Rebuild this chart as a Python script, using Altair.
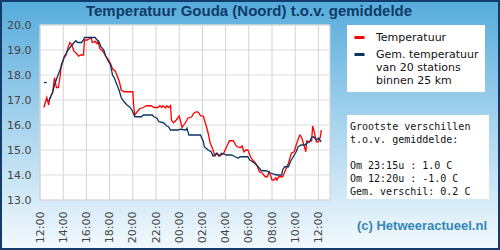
import altair as alt
import pandas as pd

# ---------------- data ----------------
SERIES = ["Temperatuur", "Gem. temperatuur van 20 stations binnen 25 km"]
COLORS = ["#ff0000", "#0b3563"]

RED_TIMES = ["12:20","12:35","12:45","12:50","13:05","13:15","13:25","13:35","13:45","13:50",
             "14:05","14:15","14:25","14:35","14:45","14:55","15:10","15:20","15:30","15:45",
             "15:50","16:05","16:15","16:25","16:30","16:45","16:55","17:00","17:10","17:25",
             "17:40","17:55","18:05","18:15","18:30","18:35","18:50","19:00","19:15","19:35",
             "20:00","20:05","20:10","20:25","20:35","20:55","21:10","21:35","21:50","22:10",
             "22:20","22:30","22:35","22:50","22:55","23:05","23:15","23:20","23:30","23:45",
             "00:00","00:15","00:30","00:45","01:05","01:15","01:30","01:40","01:50","02:05",
             "02:20","02:30","02:40","02:55","03:05","03:15","03:30","03:50","04:05","04:20",
             "04:40","04:55","05:15","05:25","05:35","05:45","05:55","06:10","06:20","06:35",
             "06:45","06:55","07:10","07:25","07:35","07:45","07:55","08:00","08:10","08:20",
             "08:25","08:35","08:55","09:10","09:25","09:30","09:40","09:55","10:05","10:20",
             "10:25","10:35","10:45","10:55","11:00","11:10","11:25","11:30","11:40","11:50",
             "12:00","12:10","12:15"]
RED_VALUES = [16.7,17.1,16.8,17.05,17.3,17.9,17.5,17.5,18.0,18.4,
              18.7,18.8,19.1,19.3,19.2,18.95,18.85,18.75,18.8,18.8,
              19.4,19.4,19.45,19.5,19.3,19.35,19.25,19.35,19.05,18.95,
              18.75,18.6,18.45,18.25,18.15,18.05,17.75,17.4,17.33,17.33,
              17.33,16.73,16.4,16.55,16.65,16.7,16.77,16.77,16.7,16.7,
              16.77,16.7,16.77,16.68,16.77,16.7,16.78,16.2,16.09,16.2,
              16.36,15.9,16.07,16.27,16.33,16.47,16.53,16.5,16.37,16.35,
              15.96,15.67,15.29,15.0,14.76,14.87,14.76,14.87,15.13,15.37,
              15.37,15.16,15.09,15.16,14.93,15.0,15.0,14.71,14.6,14.47,
              14.33,14.13,14.07,13.93,13.93,14.13,13.93,13.8,13.8,13.89,
              13.8,13.93,13.93,14.2,14.47,14.6,14.87,14.93,15.2,15.53,
              15.6,15.47,15.2,14.93,15.37,15.33,15.37,15.96,15.67,15.33,
              15.33,15.53,15.8]

# first (isolated) piece of the regional average
AVG_TIMES_A = ["12:20", "12:35"]
AVG_VALUES_A = [17.7, 17.7]
# main piece of the regional average
AVG_TIMES_B = ["12:45","12:55","13:05","13:15","13:30","13:50","14:05","14:25","14:45","15:05",
               "15:15","15:35","15:45","15:50","16:45","16:55","17:05","17:15","17:30","17:40",
               "17:55","18:05","18:15","18:25","18:35","18:50","19:00","19:15","19:30","19:45",
               "19:55","20:05","20:10","20:45","20:55","21:40","21:50","22:05","22:15","22:40",
               "22:55","23:05","23:15","23:55","00:05","00:35","00:40","00:50","01:50","02:05",
               "02:10","02:30","02:45","02:55","03:15","03:25","03:40","04:05","04:30","04:50",
               "05:05","05:15","05:55","06:05","06:20","06:40","06:55","07:05","07:30","07:50",
               "08:05","08:25","08:50","08:55","09:05","09:25","09:35","09:50","10:05","10:15",
               "10:30","10:50","11:00","11:15","11:25","11:35","11:50","12:00","12:15"]
AVG_VALUES_B = [16.95,17.13,17.3,17.6,17.93,18.33,18.73,19.0,19.2,19.37,
                19.3,19.3,19.4,19.5,19.5,19.4,19.33,19.13,19.0,18.76,
                18.53,18.4,18.0,17.87,17.67,17.37,17.1,16.93,16.8,16.71,
                16.6,16.44,16.33,16.33,16.4,16.4,16.33,16.27,16.13,16.09,
                15.96,15.93,15.8,15.8,15.83,15.8,15.87,15.6,15.6,15.33,
                15.13,15.0,14.93,14.76,14.87,14.76,14.87,14.8,14.8,14.73,
                14.67,14.73,14.73,14.6,14.53,14.4,14.27,14.17,14.17,14.09,
                14.04,14.0,14.0,14.2,14.33,14.33,14.53,14.73,14.93,15.13,
                15.2,15.2,15.27,15.33,15.51,15.53,15.4,15.47,15.33]

Y_TICKS = [13, 14, 15, 16, 17, 18, 19, 20]
X_TICK_HOURS = [(1, 12), (1, 14), (1, 16), (1, 18), (1, 20), (1, 22), (2, 0),
                (2, 2), (2, 4), (2, 6), (2, 8), (2, 10), (2, 12)]

TITLE = "Temperatuur Gouda (Noord) t.o.v. gemiddelde"
STATS_HEADER = ["Grootste verschillen", "t.o.v. gemiddelde:"]
STATS_LINES = ["Om 23:15u : 1.0 C", "Om 12:20u : -1.0 C", "Gem. verschil: 0.2 C"]
CREDIT = "(c) Hetweeractueel.nl"


def to_ts(times):
    day, prev, out = 1, None, []
    for t in times:
        h, m = map(int, t.split(":"))
        mins = h * 60 + m
        if prev is not None and mins < prev:
            day += 1
        prev = mins
        out.append(f"2024-06-0{day}T{h:02d}:{m:02d}:00")
    return out


df = pd.concat([
    pd.DataFrame({"time": to_ts(RED_TIMES), "temp": RED_VALUES, "series": SERIES[0], "seg": "r"}),
    pd.DataFrame({"time": to_ts(AVG_TIMES_A), "temp": AVG_VALUES_A, "series": SERIES[1], "seg": "a"}),
    pd.DataFrame({"time": to_ts(AVG_TIMES_B), "temp": AVG_VALUES_B, "series": SERIES[1], "seg": "b"}),
], ignore_index=True)

xgrid = pd.DataFrame({"time": [f"2024-06-0{d}T{h:02d}:00:00" for d, h in X_TICK_HOURS]})
ygrid = pd.DataFrame({"temp": Y_TICKS})
one = alt.Data(values=[{"k": 1}])

W, H = 290, 175
x_dom = [alt.DateTime(year=2024, month=6, date=1, hours=12),
         alt.DateTime(year=2024, month=6, date=2, hours=13)]
x_scale = alt.Scale(domain=x_dom)
y_scale = alt.Scale(domain=[13, 20], nice=False, zero=False)

AX = dict(labelFont="DejaVu Sans", labelFontSize=11, labelColor="#444444",
          domain=False, ticks=False, grid=False, title=None, zindex=1)
X_AXIS = alt.Axis(format="%H:%M", labelAngle=270, labelPadding=11,
                  values=[alt.DateTime(year=2024, month=6, date=d, hours=h) for d, h in X_TICK_HOURS],
                  **AX)
Y_AXIS = alt.Axis(format=".1f", values=Y_TICKS, labelPadding=9, **AX)

# background gradient panel
bg = alt.Chart(one).mark_rect(
    fill=alt.LinearGradient(gradient="linear", x1=0, x2=0, y1=0, y2=1,
                            stops=[alt.GradientStop(color="#57acdb", offset=0),
                                   alt.GradientStop(color="#a8d4ee", offset=0.5),
                                   alt.GradientStop(color="#f2f9fd", offset=1)])
).encode(x=alt.value(-38), x2=alt.value(W + 168), y=alt.value(-23), y2=alt.value(H + 48))

plot_bg = alt.Chart(one).mark_rect(fill="white", stroke="#d2d2d2", strokeWidth=1).encode(
    x=alt.value(0), x2=alt.value(W), y=alt.value(0), y2=alt.value(H))

vgrid = alt.Chart(xgrid).mark_rule(color="#d2d2d2", strokeWidth=1).encode(
    x=alt.X("time:T", scale=x_scale, axis=X_AXIS))
hgrid = alt.Chart(ygrid).mark_rule(color="#dcdcdc", strokeWidth=1).encode(
    y=alt.Y("temp:Q", scale=y_scale, axis=Y_AXIS))

lines = alt.Chart(df).mark_line(strokeWidth=1.3).encode(
    x=alt.X("time:T", scale=x_scale, axis=X_AXIS),
    y=alt.Y("temp:Q", scale=y_scale, axis=Y_AXIS),
    color=alt.Color("series:N", scale=alt.Scale(domain=SERIES, range=COLORS),
                    legend=alt.Legend(
                        orient="none", legendX=307, legendY=0, title=None,
                        fillColor="white", padding=6, rowPadding=4,
                        symbolType="stroke", symbolStrokeWidth=3, symbolSize=100,
                        labelOffset=10, labelFont="DejaVu Sans", labelFontSize=11,
                        labelColor="#111111", labelLimit=300,
                        labelExpr="datum.label == 'Temperatuur' ? datum.label : "
                                  "['Gem. temperatuur', 'van 20 stations', 'binnen 25 km']")),
    detail="seg:N",
)

title = alt.Chart(one).mark_text(
    text=TITLE, font="Liberation Sans", fontSize=15, fontWeight="bold",
    color="#0e3a68", align="center", baseline="alphabetic"
).encode(x=alt.value(209), y=alt.value(-9))

STATS_STYLE = dict(lineBreak="\n", lineHeight=13, font="DejaVu Sans Mono", fontSize=10,
                   color="#111111", align="left", baseline="alphabetic")
stats_box = alt.Chart(one).mark_rect(fill="white").encode(
    x=alt.value(307), x2=alt.value(449), y=alt.value(90), y2=alt.value(174))
stats_head = alt.Chart(one).mark_text(text="\n".join(STATS_HEADER), **STATS_STYLE).encode(
    x=alt.value(310), y=alt.value(105))
stats_body = alt.Chart(one).mark_text(text="\n".join(STATS_LINES), **STATS_STYLE).encode(
    x=alt.value(310), y=alt.value(105 + 3 * 13))

credit = alt.Chart(one).mark_text(
    text=CREDIT, font="Liberation Sans", fontSize=13, fontWeight="bold",
    color="#3386b6", align="right", baseline="alphabetic"
).encode(x=alt.value(447), y=alt.value(205))

chart = alt.layer(bg, plot_bg, vgrid, hgrid, lines, title, stats_box, stats_head, stats_body,
                  credit).properties(
    width=W, height=H,
    autosize=alt.AutoSizeParams(type="none"),
    padding={"left": 40, "top": 25, "right": 170, "bottom": 50},
    background="#123c6b",
).configure_view(strokeWidth=0)

chart.save("out.html", embed_options={"renderer": "svg", "actions": False})
